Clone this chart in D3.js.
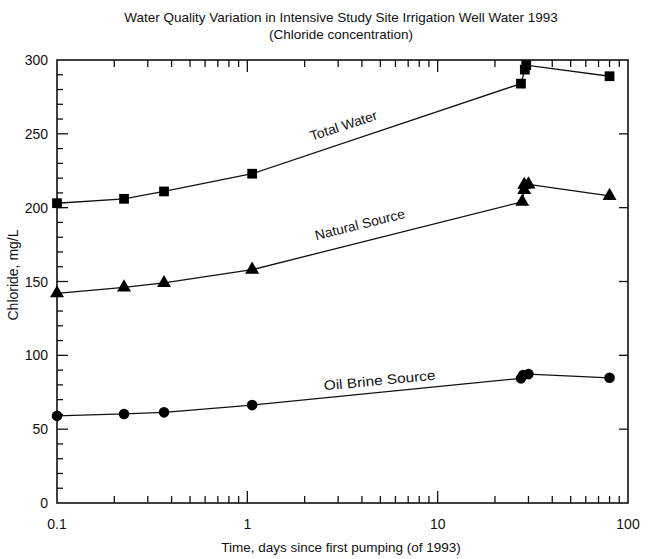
<!DOCTYPE html>
<html><head><meta charset="utf-8">
<script src="https://cdn.jsdelivr.net/npm/d3@7"></script>
<style>body{margin:0;background:#fff;} text{font-family:"Liberation Sans",Arial,sans-serif;fill:#111;}</style>
</head><body><svg id="c" width="650" height="559"></svg>
<script>
const totalT = [0.1, 0.225, 0.365, 1.06, 27.4, 28.7, 29.2, 80];
const totalY = [203, 206, 211, 223, 284, 293.5, 296.5, 289];
const naturalT = [0.1, 0.225, 0.365, 1.06, 27.8, 28.5, 28.5, 30.0, 80];
const naturalY = [142, 146, 149, 158, 204, 212, 215.5, 215.8, 208];
const oilT = [0.1, 0.225, 0.365, 1.06, 27.4, 28.1, 30.0, 80];
const oilY = [59, 60.3, 61.4, 66.3, 84.4, 86.6, 87.3, 84.8];
const xTickLabels = ["0.1", "1", "10", "100"];
const xTickValues = [0.1, 1, 10, 100];
const yTickValues = [0, 50, 100, 150, 200, 250, 300];

const svg = d3.select("#c");
const L = 57, R = 628, T = 60, B = 503;
const x = d3.scaleLog().domain([0.1, 100]).range([L, R]);
const y = d3.scaleLinear().domain([0, 300]).range([B, T]);

const minorX = [];
for (let d = 0.1; d < 100; d *= 10) for (let k = 2; k <= 9; k++) minorX.push(+(d * k).toPrecision(3));
const g = svg.append("g").attr("stroke", "#111").attr("stroke-width", 1.3);
minorX.forEach(v => {
  g.append("line").attr("x1", x(v)).attr("x2", x(v)).attr("y1", B).attr("y2", B - 7);
  g.append("line").attr("x1", x(v)).attr("x2", x(v)).attr("y1", T).attr("y2", T + 7);
});
[1, 10].forEach(v => {
  g.append("line").attr("x1", x(v)).attr("x2", x(v)).attr("y1", B).attr("y2", B - 12);
  g.append("line").attr("x1", x(v)).attr("x2", x(v)).attr("y1", T).attr("y2", T + 12);
});
d3.range(10, 300, 10).forEach(v => {
  const major = v % 50 === 0;
  g.append("line").attr("x1", L).attr("x2", L + (major ? 11 : 6)).attr("y1", y(v)).attr("y2", y(v));
});
[50, 100, 150, 200, 250].forEach(v => {
  g.append("line").attr("x1", R).attr("x2", R - 9).attr("y1", y(v)).attr("y2", y(v));
});
svg.append("rect").attr("x", L).attr("y", T).attr("width", R - L).attr("height", B - T)
  .attr("fill", "none").attr("stroke", "#111").attr("stroke-width", 1.6);

svg.append("g").selectAll("text").data(xTickValues).join("text")
  .attr("x", d => x(d)).attr("y", 529).attr("text-anchor", "middle").attr("font-size", 14)
  .text((d, i) => xTickLabels[i]);
svg.append("g").selectAll("text").data(yTickValues).join("text")
  .attr("x", 48).attr("y", d => y(d) + 5).attr("text-anchor", "end").attr("font-size", 14)
  .text(d => d);

svg.append("text").attr("x", 341).attr("y", 22).attr("text-anchor", "middle").attr("font-size", 13.5)
  .text("Water Quality Variation in Intensive Study Site Irrigation Well Water 1993");
svg.append("text").attr("x", 341).attr("y", 39).attr("text-anchor", "middle").attr("font-size", 13.5)
  .text("(Chloride concentration)");
svg.append("text").attr("x", 341).attr("y", 552).attr("text-anchor", "middle").attr("font-size", 13.5)
  .text("Time, days since first pumping (of 1993)");
svg.append("text").attr("transform", "translate(18,275) rotate(-90)").attr("text-anchor", "middle").attr("font-size", 14)
  .text("Chloride, mg/L");

const line = d3.line().x(d => x(d[0])).y(d => y(d[1]));
function series(ts, vs, sym, size) {
  const pts = ts.map((t, i) => [t, vs[i]]);
  svg.append("path").attr("d", line(pts)).attr("fill", "none").attr("stroke", "#111").attr("stroke-width", 1.3);
  svg.append("g").selectAll("path").data(pts).join("path")
    .attr("transform", d => `translate(${x(d[0])},${y(d[1])})`)
    .attr("d", d3.symbol().type(sym).size(size)).attr("fill", "#000");
}
series(totalT, totalY, d3.symbolSquare, 95);
series(naturalT, naturalY, d3.symbolTriangle, 85);
series(oilT, oilY, d3.symbolCircle, 88);

function lbl(txt, cx, cy, ang, len) {
  svg.append("text").attr("transform", `translate(${cx},${cy}) rotate(${ang})`)
    .attr("text-anchor", "middle").attr("font-size", 13.5)
    .attr("textLength", len).attr("lengthAdjust", "spacingAndGlyphs").text(txt);
}
lbl("Total Water", 345, 130, -18, 70);
lbl("Natural Source", 361, 229, -14, 92);
lbl("Oil Brine Source", 380, 385, -5.5, 112);
</script></body></html>
